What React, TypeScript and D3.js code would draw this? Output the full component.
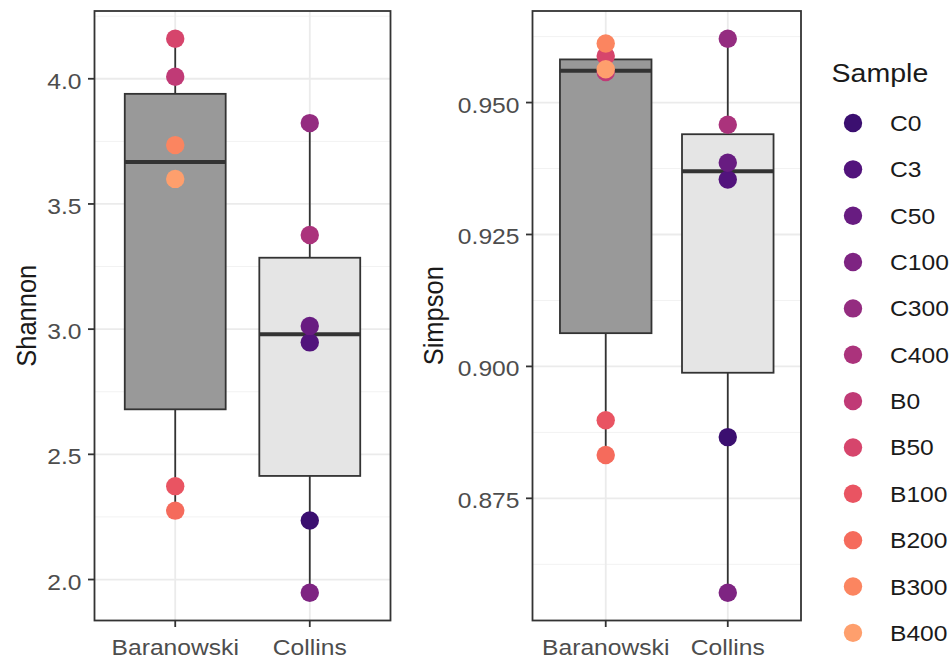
import React from "react";
import * as d3 from "d3";

const samples = ["C0", "C3", "C50", "C100", "C300", "C400", "B0", "B50", "B100", "B200", "B300", "B400"];
const sampleGroup = ["Collins", "Collins", "Collins", "Collins", "Collins", "Collins", "Baranowski", "Baranowski", "Baranowski", "Baranowski", "Baranowski", "Baranowski"];
const shannonValues = [2.236, 2.947, 3.013, 1.947, 3.823, 3.376, 4.008, 4.16, 2.373, 2.275, 3.735, 3.6];
const simpsonValues = [0.8866, 0.9354, 0.9386, 0.8571, 0.9621, 0.9458, 0.9558, 0.9588, 0.8898, 0.8832, 0.9612, 0.9563];
const groups = ["Baranowski", "Collins"];
const groupFills = ["#999999", "#e5e5e5"];
const shannonTicks = [2.0, 2.5, 3.0, 3.5, 4.0];
const shannonMinor = [2.25, 2.75, 3.25, 3.75, 4.25];
const simpsonTicks = [0.875, 0.9, 0.925, 0.95];
const simpsonMinor = [0.8625, 0.8875, 0.9125, 0.9375, 0.9625];

const SX = 1.12;
const FONT = "'Liberation Sans', Arial, sans-serif";

const colorScale = d3
  .scaleOrdinal<string, string>()
  .domain(samples)
  .range(samples.map((_, i) => d3.interpolateMagma(0.2 + (i * 0.6) / (samples.length - 1))));

function SText(props: any) {
  const { x, y, rotate, children, ...rest } = props;
  return (
    <g transform={`translate(${x},${y}) scale(${SX},1)${rotate ? ` rotate(${rotate})` : ""}`}>
      <text x={0} y={0} fontFamily={FONT} {...rest}>
        {children}
      </text>
    </g>
  );
}

function Panel(props: {
  values: number[];
  ticks: number[];
  minor: number[];
  fmt: (v: number) => string;
  x0: number;
  x1: number;
  title: string;
  titleX: number;
}) {
  const { values, ticks, minor, fmt, x0, x1, title, titleX } = props;
  const top = 11;
  const bottom = 620.5;
  const [mn, mx] = d3.extent(values) as [number, number];
  const pad = (mx - mn) * 0.05;
  const y = d3.scaleLinear().domain([mn - pad, mx + pad]).range([bottom, top]);
  const x = d3.scalePoint<string>().domain(groups).range([x0, x1]).padding(0.6);
  const step = x.step();
  const bw = step * 0.75;

  const stats = groups.map((g) => {
    const vs = values.filter((_, i) => sampleGroup[i] === g).sort(d3.ascending);
    const q1 = d3.quantile(vs, 0.25)!;
    const med = d3.quantile(vs, 0.5)!;
    const q3 = d3.quantile(vs, 0.75)!;
    const iqr = q3 - q1;
    const lo = d3.min(vs.filter((v) => v >= q1 - 1.5 * iqr))!;
    const hi = d3.max(vs.filter((v) => v <= q3 + 1.5 * iqr))!;
    return { g, q1, med, q3, lo, hi };
  });

  return (
    <g>
      {minor.map((t) => (
        <line key={"mi" + t} x1={x0} x2={x1} y1={y(t)} y2={y(t)} stroke="#f2f2f2" strokeWidth={1} />
      ))}
      {ticks.map((t) => (
        <line key={"ma" + t} x1={x0} x2={x1} y1={y(t)} y2={y(t)} stroke="#ebebeb" strokeWidth={1.8} />
      ))}
      {groups.map((g) => (
        <line key={"vx" + g} x1={x(g)} x2={x(g)} y1={top} y2={bottom} stroke="#ebebeb" strokeWidth={1.8} />
      ))}
      {stats.map((s, i) => {
        const cx = x(s.g)!;
        return (
          <g key={s.g}>
            <line x1={cx} x2={cx} y1={y(s.q3)} y2={y(s.hi)} stroke="#333333" strokeWidth={1.8} />
            <line x1={cx} x2={cx} y1={y(s.q1)} y2={y(s.lo)} stroke="#333333" strokeWidth={1.8} />
            <rect
              x={cx - bw / 2}
              y={y(s.q3)}
              width={bw}
              height={y(s.q1) - y(s.q3)}
              fill={groupFills[i]}
              stroke="#333333"
              strokeWidth={1.8}
            />
            <line x1={cx - bw / 2} x2={cx + bw / 2} y1={y(s.med)} y2={y(s.med)} stroke="#333333" strokeWidth={4} />
          </g>
        );
      })}
      {values.map((v, i) => (
        <circle key={samples[i]} cx={x(sampleGroup[i])} cy={y(v)} r={9.2} fill={colorScale(samples[i])} />
      ))}
      <rect x={x0} y={top} width={x1 - x0} height={bottom - top} fill="none" stroke="#333333" strokeWidth={1.8} />
      {ticks.map((t) => (
        <g key={"yt" + t}>
          <line x1={x0 - 6.5} x2={x0} y1={y(t)} y2={y(t)} stroke="#333333" strokeWidth={1.8} />
          <SText x={x0 - 13} y={y(t) + 10} textAnchor="end" fontSize={22} fill="#4d4d4d">
            {fmt(t)}
          </SText>
        </g>
      ))}
      {groups.map((g) => (
        <g key={"xt" + g}>
          <line x1={x(g)} x2={x(g)} y1={bottom} y2={bottom + 6.5} stroke="#333333" strokeWidth={1.8} />
          <SText x={x(g)} y={655} textAnchor="middle" fontSize={22} fill="#4d4d4d">
            {g}
          </SText>
        </g>
      ))}
      <SText x={titleX} y={(top + bottom) / 2} rotate={-90} textAnchor="middle" fontSize={25.5} fill="#1a1a1a">
        {title}
      </SText>
    </g>
  );
}

export default function App() {
  const legendY0 = 123;
  const legendStep = 46.35;
  return (
    <svg
      width={952}
      height={659}
      style={{ position: "absolute", left: 0, top: 0, background: "#ffffff" }}
    >
      <rect x={0} y={0} width={952} height={659} fill="#ffffff" />
      <Panel
        values={shannonValues}
        ticks={shannonTicks}
        minor={shannonMinor}
        fmt={d3.format(".1f")}
        x0={94.5}
        x1={390.5}
        title="Shannon"
        titleX={36}
      />
      <Panel
        values={simpsonValues}
        ticks={simpsonTicks}
        minor={simpsonMinor}
        fmt={d3.format(".3f")}
        x0={532.5}
        x1={801}
        title="Simpson"
        titleX={443}
      />
      <SText x={831.5} y={82} fontSize={25.5} fill="#1a1a1a">
        Sample
      </SText>
      {samples.map((s, i) => (
        <g key={"lg" + s}>
          <circle cx={853} cy={legendY0 + i * legendStep} r={9.2} fill={colorScale(s)} />
          <SText x={890} y={legendY0 + i * legendStep + 8} fontSize={22} fill="#1a1a1a">
            {s}
          </SText>
        </g>
      ))}
    </svg>
  );
}
